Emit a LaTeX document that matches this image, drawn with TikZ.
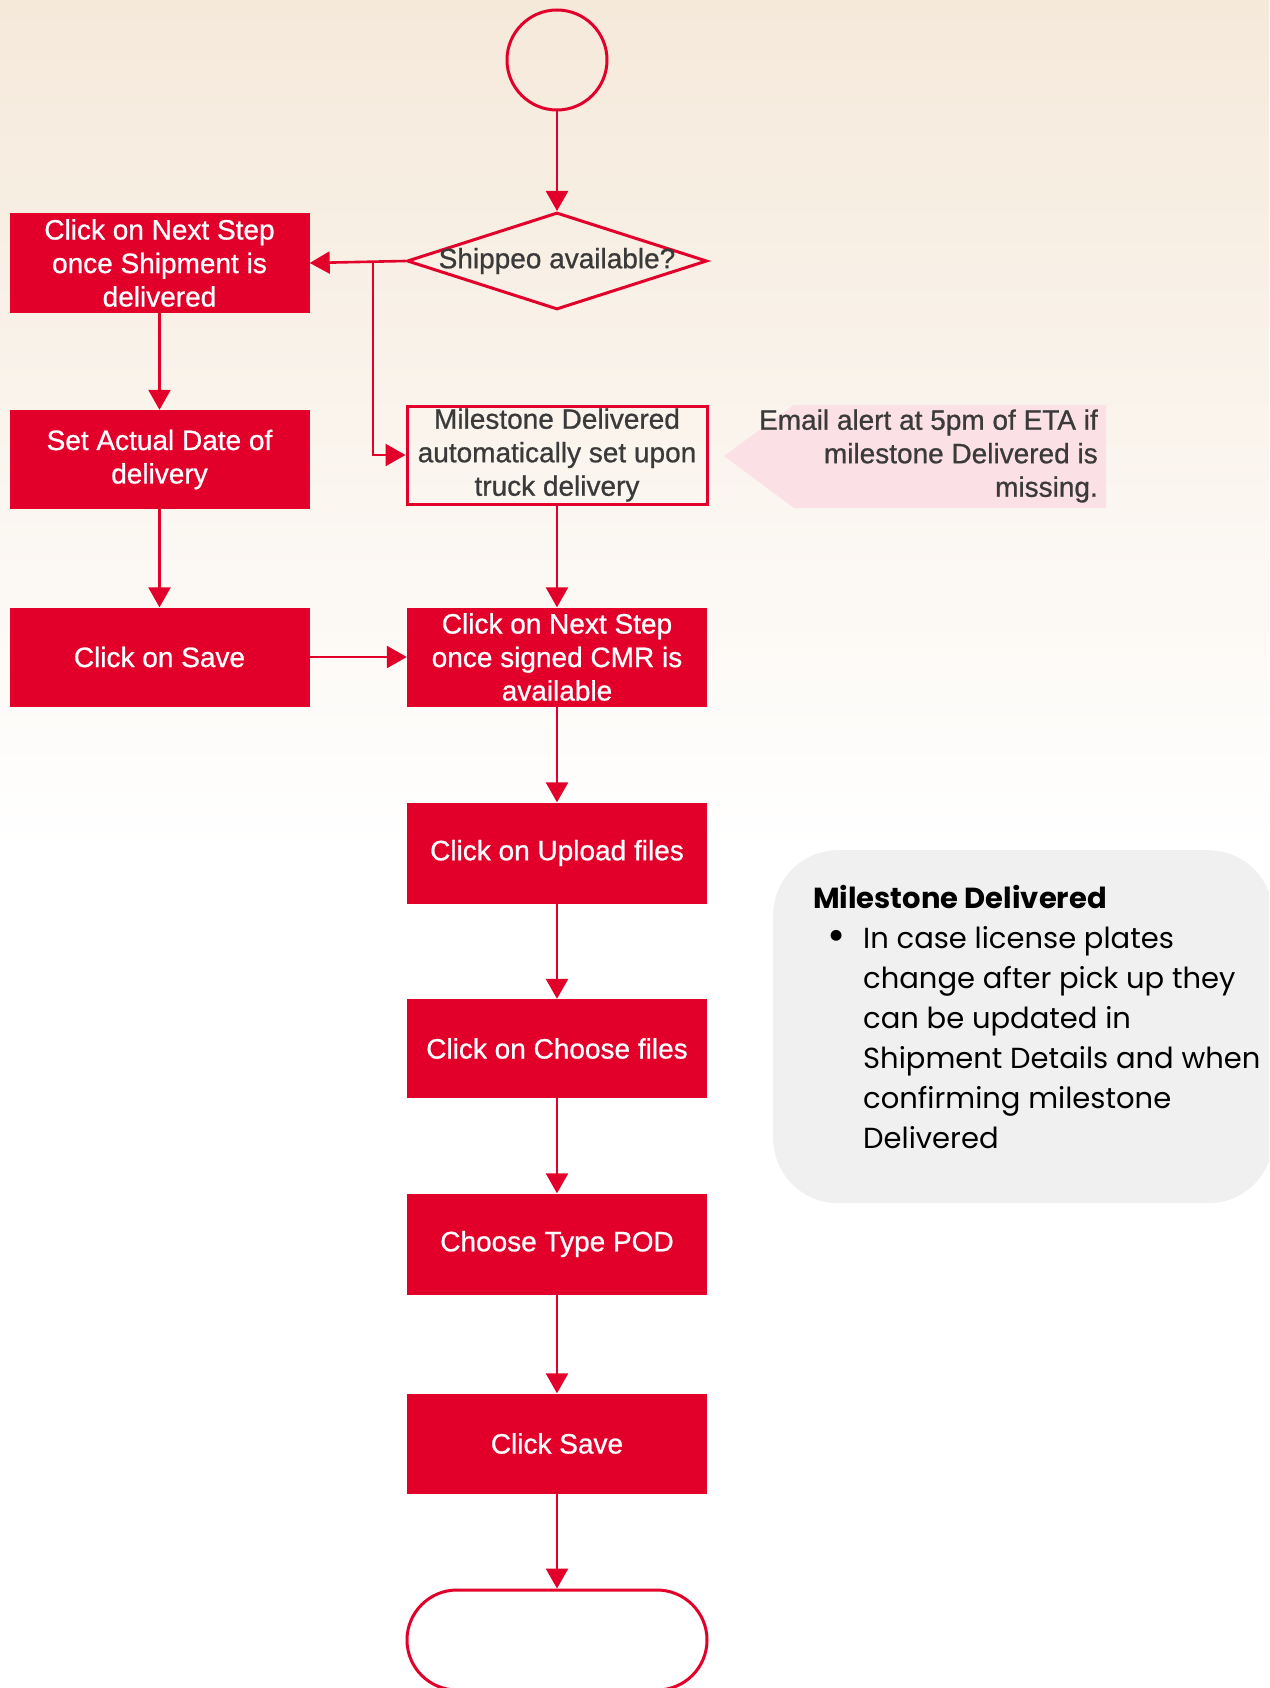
\documentclass[tikz,border=0pt]{standalone}
\usepackage{fontspec}
\setmainfont[FakeBold=0.8]{Liberation Sans}
\newfontfamily\infofont{Poppins}
\usetikzlibrary{shapes.geometric,arrows.meta}
\definecolor{dred}{RGB}{226,0,43}
\definecolor{bgtop}{RGB}{245,233,218}
\definecolor{txtgrey}{RGB}{58,58,58}
\definecolor{calloutpink}{RGB}{251,224,230}
\definecolor{infogrey}{RGB}{240,240,240}
\begin{document}
\begin{tikzpicture}[x=1pt,y=-1pt,
  every node/.style={font=\fontsize{28}{33.5}\selectfont},
  redbox/.style={fill=dred, text=white, minimum width=300pt, minimum height=99pt, inner sep=0pt, align=center},
  outl/.style={draw=dred, line width=3pt},
  arr/.style={draw=dred, line width=2.6pt, -{Triangle[length=20pt,width=22pt]}},
  infotext/.style={font=\infofont\fontsize{29}{40}\selectfont, text=black, inner sep=0pt}
  ]
\useasboundingbox (0,0) rectangle (1269,1688);
\clip (0,0) rectangle (1269,1688);
% background
\fill[white] (0,0) rectangle (1269,1688);
\shade[top color=bgtop, bottom color=white] (0,0) rectangle (1269,850);

% info box
\node[fill=infogrey, rounded corners=65pt, minimum width=500pt, minimum height=353pt, inner sep=0pt, anchor=north west] (info) at (773,850) {};
\node[infotext, font=\infofont\bfseries\fontsize{29}{40}\selectfont, anchor=base west] (ttl) at (813,908) {Milestone Delivered};
\node[infotext, font=\infofont\fontsize{44}{40}\selectfont] (bul) at (837,940) {\textbullet};
\node[infotext, anchor=base west, align=left] (body) at (863,1148) {In case license plates\\change after pick up they\\can be updated in\\Shipment Details and when\\confirming milestone\\Delivered};

% callout
\fill[calloutpink] (724,456) -- (794,405) -- (1106,405) -- (1106,508) -- (794,508) -- cycle;
\node[anchor=east, align=right, text=txtgrey, inner sep=0pt] (email) at (1098,456) {Email alert at 5pm of ETA if\\milestone Delivered is\\missing.};

% flow nodes
\node[outl, circle, minimum size=100pt, inner sep=0pt] (start) at (557,60) {};
\node[outl, diamond, minimum width=300pt, minimum height=97pt, inner sep=0pt, text=txtgrey] (dia) at (557,261) {\makebox[0pt]{Shippeo available?}};
\node[redbox] (boxa) at (159.5,263) {Click on Next Step\\once Shipment is\\delivered};
\node[redbox] (boxb) at (159.5,459.5) {Set Actual Date of\\delivery};
\node[redbox] (boxc) at (159.5,657) {Click on Save};
\node[outl, minimum width=300pt, minimum height=98pt, inner sep=0pt, align=center, text=txtgrey] (ms) at (557,455) {Milestone Delivered\\automatically set upon\\truck delivery};
\node[redbox] (cmr) at (557,657) {Click on Next Step\\once signed CMR is\\available};
\node[redbox, minimum height=101pt] (upl) at (557,853) {Click on Upload files};
\node[redbox] (chf) at (557,1048.5) {Click on Choose files};
\node[redbox, minimum height=101pt] (pod) at (557,1244) {Choose Type POD};
\node[redbox, minimum height=100pt] (sav) at (557,1443.5) {Click Save};
\node[outl, fill=white, rounded corners=50pt, minimum width=300pt, minimum height=100pt, inner sep=0pt] (fin) at (557,1640) {};

% connectors
\coordinate (jn) at (373,261);
\draw[arr] (start) -- (dia);
\draw[arr] (dia.west) -- (boxa.east);
\draw[arr] (jn) |- (ms.west);
\draw[arr] (boxa) -- (boxb);
\draw[arr] (boxb) -- (boxc);
\draw[arr] (boxc) -- (cmr);
\draw[arr] (ms) -- (cmr);
\draw[arr] (cmr) -- (upl);
\draw[arr] (upl) -- (chf);
\draw[arr] (chf) -- (pod);
\draw[arr] (pod) -- (sav);
\draw[arr] (sav) -- (fin);
\end{tikzpicture}
\end{document}
